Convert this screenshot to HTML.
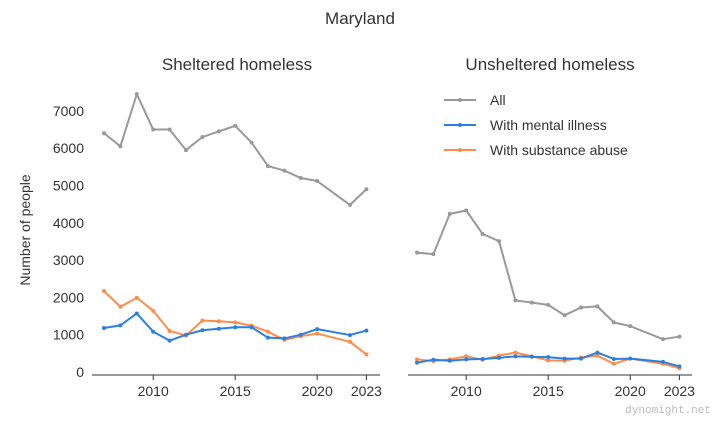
<!DOCTYPE html>
<html><head><meta charset="utf-8"><style>
body{margin:0;background:#fff;font-family:"Liberation Sans",sans-serif}
text{font-family:"Liberation Sans",sans-serif;fill:#333}
</style></head><body>
<svg id="chart" width="720" height="420">
<text x="360" y="24" font-size="17" text-anchor="middle">Maryland</text>
<text x="237" y="70" font-size="17" text-anchor="middle">Sheltered homeless</text>
<text x="550" y="70" font-size="17" text-anchor="middle">Unsheltered homeless</text>
<text transform="translate(30,230) rotate(-90)" font-size="14" text-anchor="middle">Number of people</text>
<g id="legend">
<g><line x1="444" y1="100" x2="476" y2="100" stroke="#999" stroke-width="2"/><circle cx="460" cy="100" r="2" fill="#999"/><text x="490" y="105" font-size="14">All</text></g>
<g><line x1="444" y1="125" x2="476" y2="125" stroke="#2a7fe0" stroke-width="2"/><circle cx="460" cy="125" r="2" fill="#2a7fe0"/><text x="490" y="130" font-size="14">With mental illness</text></g>
<g><line x1="444" y1="150" x2="476" y2="150" stroke="#ff8c4a" stroke-width="2"/><circle cx="460" cy="150" r="2" fill="#ff8c4a"/><text x="490" y="155" font-size="14">With substance abuse</text></g>
</g>
<text x="711" y="413" font-size="11" text-anchor="end" style="font-family:'Liberation Mono',monospace;fill:#bbb">dynomight.net</text>
</svg>
<script>
const years=[2007,2008,2009,2010,2011,2012,2013,2014,2015,2016,2017,2018,2019,2020,2022,2023];
const shelteredAll=[6400,6050,7450,6500,6500,5950,6300,6450,6600,6150,5520,5400,5200,5120,4480,4900];
const shelteredMental=[1180,1250,1570,1080,840,1000,1120,1160,1200,1200,920,900,1000,1150,990,1110];
const shelteredSubstance=[2170,1750,1990,1640,1100,980,1380,1360,1330,1240,1080,860,960,1030,810,470];
const unshelteredAll=[3200,3160,4240,4330,3700,3510,1920,1860,1800,1520,1730,1760,1330,1230,880,950];
const unshelteredMental=[250,330,300,340,350,380,420,410,400,360,360,520,350,360,270,150];
const unshelteredSubstance=[340,290,340,420,330,440,520,420,310,300,390,440,220,360,220,100];
const yTicks=[0,1000,2000,3000,4000,5000,6000,7000];
const xTicks=[2010,2015,2020,2023];
const svg=document.getElementById('chart');const NS='http://www.w3.org/2000/svg';
function mk(t,a){const e=document.createElementNS(NS,t);for(const k in a)e.setAttribute(k,a[k]);svg.appendChild(e);return e;}
const y=v=>372-v*0.0373;
const panels=[{name:'sheltered',x0:104,all:shelteredAll,m:shelteredMental,s:shelteredSubstance,ax0:92,ax1:380},
{name:'unsheltered',x0:417,all:unshelteredAll,m:unshelteredMental,s:unshelteredSubstance,ax0:408,ax1:692}];
const ppy=16.4;
panels.forEach(p=>{
 const x=yr=>p.x0+(yr-2007)*ppy;
 let ax=mk('line',{x1:p.ax0,x2:p.ax1,y1:375,y2:375,stroke:'#333','stroke-width':1});
 
 
 xTicks.forEach(t=>{mk('line',{x1:x(t),x2:x(t),y1:375,y2:380,stroke:'#333'});
  const tx=mk('text',{x:x(t),y:396,'font-size':14,'text-anchor':'middle'});tx.textContent=t;
  
  });
 [[p.all,'#999','all'],[p.s,'#ff8c4a','substance-abuse'],[p.m,'#2a7fe0','mental-illness']].forEach(([d,c,n])=>{
  const pl=mk('polyline',{points:d.map((v,i)=>x(years[i])+','+y(v)).join(' '),fill:'none',stroke:c,'stroke-width':2,'stroke-linejoin':'round'});
  
  
  d.forEach((v,i)=>{const ci=mk('circle',{cx:x(years[i]),cy:y(v),r:2,fill:c});
   
   });
 });
});
yTicks.forEach(t=>{const tx=mk('text',{x:84,y:y(t)+5,'font-size':14,'text-anchor':'end'});tx.textContent=t;
 
 });
</script>
</body></html>
